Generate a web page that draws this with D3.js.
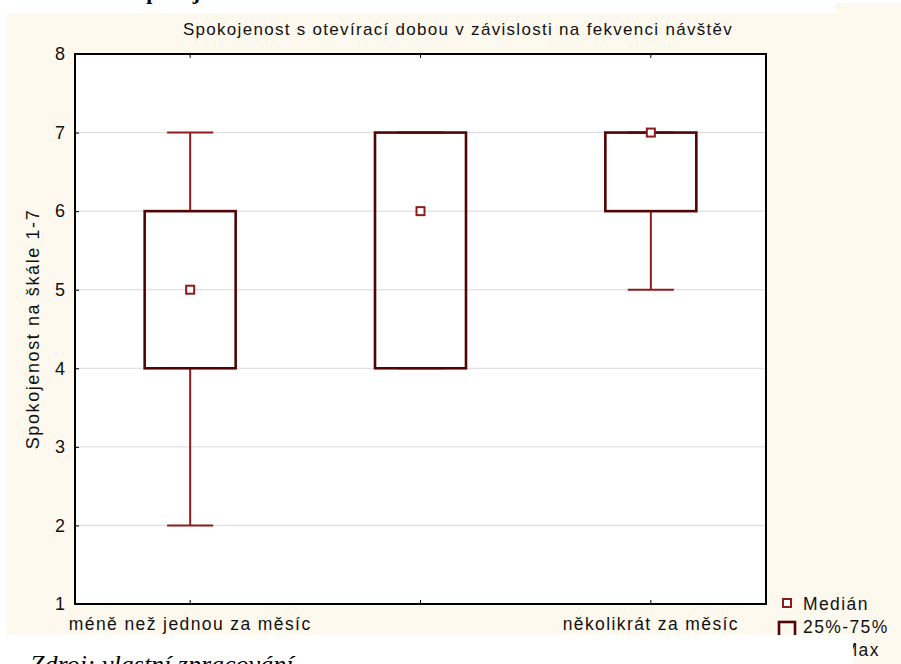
<!DOCTYPE html>
<html>
<head>
<meta charset="utf-8">
<script src="https://cdn.jsdelivr.net/npm/d3@7"></script>
<style>
  html, body { margin: 0; padding: 0; background: #ffffff; }
  svg { display: block; }
</style>
</head>
<body>
<svg id="chart" width="901" height="664"></svg>
<script>
// Frequency-of-visit groups and the box-plot statistics of satisfaction (scale 1-7)
const categories = ["méně než jednou za měsíc", "jednou za měsíc", "několikrát za měsíc"];
const tickLabels = ["méně než jednou za měsíc", "", "několikrát za měsíc"];
const medians = [5, 6, 7];
const q1 = [4, 4, 6];
const q3 = [6, 7, 7];
const mins = [2, 4, 5];
const maxs = [7, 7, 7];
const yTicks = [1, 2, 3, 4, 5, 6, 7, 8];
const legendLabels = ["Medián", "25%-75%", "Min-Max"];

const title = "Spokojenost s otevírací dobou v závislosti na fekvenci návštěv";
const yTitle = "Spokojenost na škále 1-7";

const svg = d3.select("#chart");
const W = 901, H = 664;
const cream = "#fef9ee";
const boxColor = "#520404";
const whiskerColor = "#8e1c1c";
const sans = "'Liberation Sans', Arial, sans-serif";
const serif = "'Liberation Serif', 'Times New Roman', serif";

// page-like surroundings
svg.append("rect").attr("x", 0).attr("y", 0).attr("width", W).attr("height", H).attr("fill", "#ffffff");
svg.append("rect").attr("x", 7).attr("y", 3).attr("width", W - 7).attr("height", H - 3).attr("fill", cream);

const margin = { left: 75, right: 135, top: 54, bottom: 60 };
const plotX0 = margin.left, plotX1 = W - margin.right;
const plotY0 = margin.top, plotY1 = H - margin.bottom;

const x = d3.scaleBand().domain(categories).range([plotX0, plotX1]).padding(0);
const y = d3.scaleLinear().domain([1, 8]).range([plotY1, plotY0]);

// plot area
svg.append("rect")
  .attr("x", plotX0).attr("y", plotY0)
  .attr("width", plotX1 - plotX0).attr("height", plotY1 - plotY0)
  .attr("fill", "#ffffff");

// horizontal gridlines
svg.append("g").selectAll("line")
  .data(yTicks.slice(1, -1))
  .join("line")
  .attr("x1", plotX0).attr("x2", plotX1)
  .attr("y1", d => y(d)).attr("y2", d => y(d))
  .attr("stroke", "#d9d9d9").attr("stroke-width", 1);

// y axis
const yAxis = svg.append("g")
  .attr("transform", `translate(${plotX0},0)`)
  .call(d3.axisLeft(y).tickValues(yTicks).tickSize(-4).tickPadding(10).tickFormat(d3.format("d")));
yAxis.select(".domain").remove();
yAxis.selectAll(".tick line").attr("stroke", "#000");
yAxis.selectAll("text").attr("font-family", sans).attr("font-size", 18).attr("fill", "#111");

// x axis (bottom)
const xAxis = svg.append("g")
  .attr("transform", `translate(0,${plotY1})`)
  .call(d3.axisBottom(x).tickSize(-4).tickPadding(14).tickFormat((d, i) => tickLabels[i]));
xAxis.select(".domain").remove();
xAxis.selectAll(".tick line").attr("stroke", "#000");
xAxis.selectAll("text").attr("font-family", sans).attr("font-size", 17.5)
  .attr("letter-spacing", 1.4).attr("fill", "#111");

// top ticks
const xTop = svg.append("g")
  .attr("transform", `translate(0,${plotY0})`)
  .call(d3.axisTop(x).tickSize(-4).tickFormat(""));
xTop.select(".domain").remove();
xTop.selectAll(".tick line").attr("stroke", "#000");

// boxes
const bw = x.bandwidth();
const boxW = bw * 0.395;
const capW = bw * 0.2;
const groups = svg.append("g").selectAll("g")
  .data(categories)
  .join("g")
  .attr("transform", d => `translate(${x(d) + bw / 2},0)`);

groups.append("line")
  .attr("x1", 0).attr("x2", 0)
  .attr("y1", (d, i) => y(maxs[i])).attr("y2", (d, i) => y(q3[i]))
  .attr("stroke", whiskerColor).attr("stroke-width", 2);
groups.append("line")
  .attr("x1", 0).attr("x2", 0)
  .attr("y1", (d, i) => y(q1[i])).attr("y2", (d, i) => y(mins[i]))
  .attr("stroke", whiskerColor).attr("stroke-width", 2);
groups.append("line")
  .attr("x1", -capW / 2).attr("x2", capW / 2)
  .attr("y1", (d, i) => y(maxs[i])).attr("y2", (d, i) => y(maxs[i]))
  .attr("stroke", whiskerColor).attr("stroke-width", 2);
groups.append("line")
  .attr("x1", -capW / 2).attr("x2", capW / 2)
  .attr("y1", (d, i) => y(mins[i])).attr("y2", (d, i) => y(mins[i]))
  .attr("stroke", whiskerColor).attr("stroke-width", 2);
groups.append("rect")
  .attr("x", -boxW / 2).attr("width", boxW)
  .attr("y", (d, i) => y(q3[i])).attr("height", (d, i) => y(q1[i]) - y(q3[i]))
  .attr("fill", "none").attr("stroke", boxColor).attr("stroke-width", 2.6);
groups.append("rect")
  .attr("x", -4).attr("width", 8)
  .attr("y", (d, i) => y(medians[i]) - 4).attr("height", 8)
  .attr("fill", "#ffffff").attr("stroke", whiskerColor).attr("stroke-width", 2);

// plot frame
svg.append("rect")
  .attr("x", plotX0).attr("y", plotY0)
  .attr("width", plotX1 - plotX0).attr("height", plotY1 - plotY0)
  .attr("fill", "none").attr("stroke", "#000").attr("stroke-width", 2);

// titles
svg.append("text")
  .attr("x", 458).attr("y", 35)
  .attr("text-anchor", "middle")
  .attr("font-family", sans).attr("font-size", 17).attr("letter-spacing", 1.3).attr("fill", "#111")
  .text(title);
svg.append("text")
  .attr("transform", `translate(39,${(plotY0 + plotY1) / 2}) rotate(-90)`)
  .attr("text-anchor", "middle")
  .attr("font-family", sans).attr("font-size", 18).attr("letter-spacing", 1.6).attr("fill", "#111")
  .text(yTitle);

// legend
const lg = svg.append("g").attr("transform", "translate(787,0)");
lg.append("rect").attr("x", -4).attr("y", 599).attr("width", 8).attr("height", 8)
  .attr("fill", "#fff").attr("stroke", whiskerColor).attr("stroke-width", 2);
lg.append("rect").attr("x", -8).attr("y", 622).attr("width", 16).attr("height", 18)
  .attr("fill", "none").attr("stroke", boxColor).attr("stroke-width", 2.6);
lg.append("line").attr("x1", 0).attr("x2", 0).attr("y1", 646).attr("y2", 662)
  .attr("stroke", whiskerColor).attr("stroke-width", 2);
lg.selectAll("text.lbl")
  .data(legendLabels)
  .join("text")
  .attr("class", "lbl")
  .attr("x", 16).attr("y", (d, i) => 610 + i * 23)
  .attr("font-family", sans).attr("font-size", 17.5).attr("letter-spacing", 1.4).attr("fill", "#111")
  .text(d => d);

// surrounding document text
svg.append("rect").attr("x", 0).attr("y", 0).attr("width", 835).attr("height", 13).attr("fill", "#ffffff");
svg.append("rect").attr("x", 0).attr("y", 635).attr("width", 853).attr("height", 29).attr("fill", "#ffffff");
svg.append("text")
  .attr("x", 134).attr("y", -1)
  .attr("font-family", serif)
  .attr("font-weight", "bold").attr("font-size", 22).attr("fill", "#000")
  .text("Spokojenost s otevírací dobou");
svg.append("text")
  .attr("x", 30).attr("y", 673)
  .attr("font-family", serif)
  .attr("font-style", "italic").attr("font-size", 26).attr("fill", "#000")
  .text("Zdroj: vlastní zpracování");
</script>
</body>
</html>
